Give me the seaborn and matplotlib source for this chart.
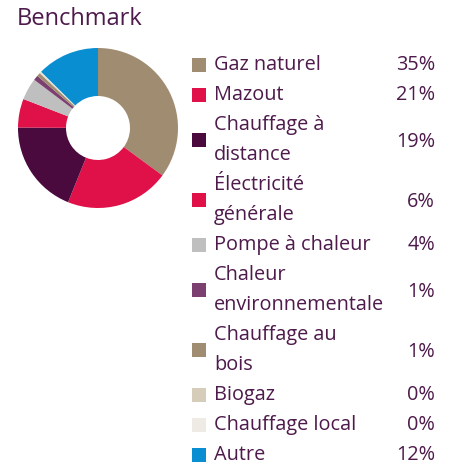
import matplotlib
matplotlib.use("Agg")
import matplotlib.pyplot as plt
from matplotlib.patches import Rectangle
import seaborn as sns

sns.set_style("white")
plt.rcParams['font.family'] = ['Open Sans', 'DejaVu Sans']

# ---- data ----
categories = ["Gaz naturel", "Mazout", "Chauffage à\ndistance", "Électricité\ngénérale",
              "Pompe à chaleur", "Chaleur\nenvironnementale", "Chauffage au\nbois",
              "Biogaz", "Chauffage local", "Autre"]
values = [35.1, 21.0, 19.0, 5.8, 4.4, 1.0, 0.7, 0.2, 0.2, 12.6]
pct_labels = ["35%", "21%", "19%", "6%", "4%", "1%", "1%", "0%", "0%", "12%"]
colors = ["#A08C70", "#E01048", "#4A0A3E", "#E01048", "#BFBFBF",
          "#7B4070", "#A08C70", "#D5CDB9", "#EEEBE5", "#0A8ED2"]
title = "Benchmark"

TXT = "#4D1A4B"
W, H = 453, 468
fig = plt.figure(figsize=(W / 100, H / 100), dpi=100)

# donut
cx, cy, r = 98, 128, 80
ax = fig.add_axes([(cx - r) / W, (H - cy - r) / H, 2 * r / W, 2 * r / H])
ax.pie(values, colors=colors, startangle=90, counterclock=False,
       wedgeprops=dict(width=0.6, linewidth=0))
ax.set_xlim(-1, 1)
ax.set_ylim(-1, 1)
ax.set_aspect("equal")
ax.axis("off")

# overlay in pixel coords
ov = fig.add_axes([0, 0, 1, 1])
ov.set_xlim(0, W)
ov.set_ylim(H, 0)
ov.axis("off")

ov.text(17, 19, title, fontsize=17, color=TXT, va="center", ha="left")

line_h = 30
y = 65
for lab, pct, col in zip(categories, pct_labels, colors):
    lines = lab.split("\n")
    n = len(lines)
    yc = y + (n - 1) * line_h / 2
    ov.add_patch(Rectangle((192, yc - 7.5), 14, 14, facecolor=col, edgecolor="none"))
    for i, ln in enumerate(lines):
        ov.text(214, y + i * line_h, ln, fontsize=14.3, color=TXT,
                va="center", ha="left")
    ov.text(435, yc + (2 if n > 1 else 0), pct, fontsize=14.3, color=TXT,
            va="center", ha="right")
    y += n * line_h

fig.savefig("out.png", dpi=100)
